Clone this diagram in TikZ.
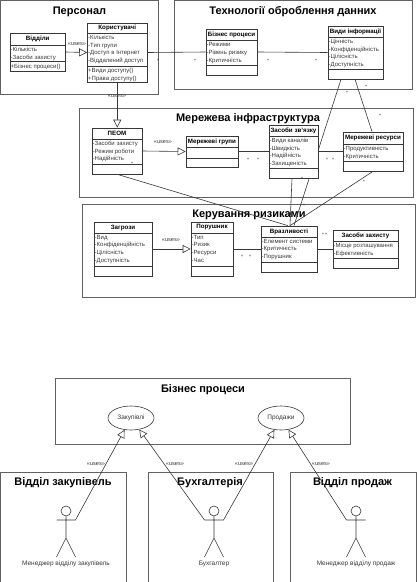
\documentclass[tikz,border=0pt]{standalone}
\usepackage{fontspec}
\setmainfont{Liberation Sans}
\usetikzlibrary{arrows.meta,fit,shapes.geometric}
\pgfdeclarelayer{panels}
\pgfdeclarelayer{wires}
\pgfsetlayers{panels,wires,main}
\definecolor{ink}{gray}{0.22}
\definecolor{frame}{gray}{0.38}
\tikzset{
  panelbox/.style={draw=frame,line width=0.9pt},
  paneltitle/.style={font=\bfseries\fontsize{11}{13}\selectfont,text=black,inner sep=0pt,yshift=-1.5pt},
  classbox/.style={draw=ink,line width=0.7pt,fill=white,inner sep=0pt},
  classline/.style={draw=ink,line width=0.7pt},
  classname/.style={font=\bfseries\fontsize{6.2}{7}\selectfont,text=black,inner sep=0pt},
  members/.style={font=\fontsize{6}{7.6}\selectfont,text=ink,inner sep=0pt,align=left,anchor=north west},
  wire/.style={draw=ink,line width=0.6pt},
  gen/.style={wire,-{Triangle[open,fill=white,length=8pt,width=8pt]}},
  usesmark/.style={font=\fontsize{5.6}{6}\selectfont,text=ink,inner sep=0pt},
  star/.style={font=\fontsize{5}{5}\selectfont,text=ink,inner sep=0pt},
  usecase/.style={ellipse,draw=ink,line width=0.6pt,fill=white,minimum width=46pt,minimum height=24pt,inner sep=0pt,font=\fontsize{6.5}{7}\selectfont,text=ink},
  actorlabel/.style={font=\fontsize{6.5}{7}\selectfont,text=ink,inner sep=0pt},
  actorline/.style={draw=ink,line width=0.6pt}
}
% name x1 y1 x2 y2 title-y title-x title text
\newcommand{\panelat}[8]{%
  \begin{pgfonlayer}{panels}
    \draw[panelbox] (#2,#3) rectangle (#4,#5);
    \node[paneltitle] (#1) at (#7,#6) {#8};
  \end{pgfonlayer}}
% name x1 y1 x2 y2 header-y attrs-y title attrs ops
\newcommand{\classat}[9]{%
  \def\cname{#1}\def\cxa{#2}\def\cya{#3}\def\cxb{#4}\def\cyb{#5}\def\chy{#6}\def\cay{#7}\def\ctitle{#8}\def\cattrs{#9}\classfinish}
\newcommand{\classfinish}[1]{%
  \node[classbox,fit={(\cxa,\cya)(\cxb,\cyb)}] (\cname) {};
  \draw[classline] (\cxa,\chy) -- (\cxb,\chy) (\cxa,\cay) -- (\cxb,\cay);
  \pgfmathsetmacro{\cmx}{(\cxa+\cxb)/2}
  \pgfmathsetmacro{\cmy}{(\cya+\chy)/2}
  \node[classname] (\cname-t) at (\cmx,\cmy) {\ctitle};
  \node[members] (\cname-a) at (\cxa+0.5,\chy+2) {\cattrs};
  \node[members] (\cname-o) at (\cxa+0.5,\cay+2) {#1};}
% name x label
\newcommand{\actorat}[3]{%
  \coordinate (#1-l) at (#2-9.5,520);
  \coordinate (#1-r) at (#2+9.5,520);
  \node[circle,draw=ink,line width=0.6pt,fill=white,minimum size=10pt,inner sep=0pt] (#1-h) at (#2,511) {};
  \coordinate (#1-c) at (#2,538);
  \coordinate (#1-fl) at (#2-9.5,557);
  \coordinate (#1-fr) at (#2+9.5,557);
  \draw[actorline] (#1-h) -- (#1-c) (#1-l) -- (#1-r) (#1-fl) -- (#1-c) -- (#1-fr);
  \node[actorlabel] (#1-n) at (#2,564) {#3};}
\begin{document}
\begin{tikzpicture}[x=1pt,y=-1pt]
\useasboundingbox (0,0) rectangle (416,582);
\begin{pgfonlayer}{panels}
\fill[white] (0,0) rectangle (416,582);
\end{pgfonlayer}

\panelat{pPers}{0}{0}{158.5}{94}{10}{79.5}{Персонал}
\panelat{pTech}{174.5}{0}{412.5}{89}{10}{293}{Технології оброблення данних}
\panelat{pNet}{79.5}{108}{413}{197}{117}{248}{Мережева інфраструктура}
\panelat{pRisk}{82}{204}{415}{297}{213}{249}{Керування ризиками}
\panelat{pBiz}{55}{378}{350}{444}{388}{203}{Бізнес процеси}
\panelat{pBuy}{0}{472}{126}{590}{481}{63}{Відділ закупівель}
\panelat{pAcc}{148}{472}{273}{590}{481}{210}{Бухгалтерія}
\panelat{pSell}{290}{472}{416}{590}{481}{352.5}{Відділ продаж}

\classat{vid}{10}{33}{65.5}{71}{45}{61.5}{Відділи}{-Кількість\\-Засоби захисту}{+Бізнес процеси()}
\classat{kor}{87.5}{23}{147}{82}{33}{66}{Користувачі}{-Кількість\\-Тип групи\\-Доступ в Інтернет\\-Віддалений доступ}{+Види доступу()\\+Права доступу()}
\classat{biz}{206}{29}{257}{75}{40.5}{65}{Бізнес процеси}{-Режими\\-Рівень ризику\\-Критичність}{}
\classat{inf}{328}{26}{383}{79}{37}{69}{Види інформації}{-Цінність\\-Конфіденційність\\-Цілісність\\-Доступність}{}
\classat{peom}{92}{128}{142}{174}{139}{164}{ПЕОМ}{-Засоби захисту\\-Режим роботи\\-Надійність}{}
\classat{grp}{186}{136}{238}{167}{147}{158}{Мережеві групи}{}{}
\classat{zv}{269}{125}{318}{178}{136}{168}{Засоби зв'язку}{-Види каналів\\-Швидкість\\-Надійність\\-Захищеність}{}
\classat{res}{343}{132}{403}{171}{144}{161}{Мережеві ресурси}{-Продуктивність\\-Критичність}{}
\classat{zag}{94}{222}{152}{276}{233}{266}{Загрози}{-Вид\\-Конфіденційність\\-Цілісність\\-Доступність}{}
\classat{por}{191}{222}{233}{276}{233}{266}{Порушник}{-Тип\\-Ризик\\-Ресурси\\-Час}{}
\classat{vra}{261}{226}{317}{272}{237}{262}{Вразливості}{-Елемент системи\\-Критичність\\-Порушник}{}
\classat{zah}{333}{230}{398}{268}{241}{258}{Засоби захисту}{-Місце розташування\\-Ефективність}{}

\node[usecase] (buy) at (131,418) {Закупівлі};
\node[usecase] (sell) at (281,418) {Продажи};
\actorat{a1}{66}{Менеджер відділу закупівель}
\actorat{a2}{214}{Бухгалтер}
\actorat{a3}{356}{Менеджер відділу продаж}

\begin{pgfonlayer}{wires}
  \draw[gen] (vid.east) -- (kor.west);
  \draw[gen] (kor.south) -- (kor.south |- peom.north);
  \draw[wire] (kor.east) -- (biz.west);
  \draw[wire] (biz.east) -- (inf.west);
  \draw[gen] (peom.east) -- (grp.west);
  \draw[wire] (grp.east) -- (zv.west);
  \draw[wire] (zv.east) -- (res.west);
  \draw[gen] (zag.east) -- (por.west);
  \draw[wire] (por.east) -- (vra.west);
  \draw[wire] (vra.east) -- (zah.west);
  \draw[wire] ([xshift=-14.5pt]inf.south) -- ([xshift=5pt]vra.north);
  \draw[wire] ([xshift=-0.5pt]inf.south) -- ([xshift=-1pt]res.north);
  \draw[wire] ([xshift=-25pt]peom.south east) -- ([xshift=-1pt]vra.north);
  \draw[wire] ([xshift=-1.5pt]zv.south) -- ([xshift=1pt]vra.north);
  \draw[wire] ([xshift=0pt]res.south) -- ([xshift=1pt]vra.north);
  \draw[gen] (a1-r) -- (buy);
  \draw[gen] (a2-l) -- (buy);
  \draw[gen] (a2-r) -- (sell);
  \draw[gen] (a3-l) -- (sell);
\end{pgfonlayer}

\node[usesmark] (u1) at (77,44) {«uses»};
\node[usesmark] (u2) at (117,96.5) {«uses»};
\node[usesmark] (u3) at (163,142.5) {«uses»};
\node[usesmark] (u4) at (171,240) {«uses»};
\node[usesmark] (u5) at (96,464) {«uses»};
\node[usesmark] (u6) at (175,464) {«uses»};
\node[usesmark] (u7) at (244,464) {«uses»};
\node[usesmark] (u8) at (321,464) {«uses»};

\foreach \i/\x/\y in {1/158/61,2/195/61,3/268/61,4/316/61,5/347/93,6/366/87,7/380/116,8/132/164,9/248/160,10/258/160,11/327/160,12/333/160,13/302/179,14/364/182,15/304/206,16/242/257,17/250/257,18/323/235,19/326/235}
  \node[star] (s\i) at (\x,\y) {*};
\end{tikzpicture}
\end{document}
